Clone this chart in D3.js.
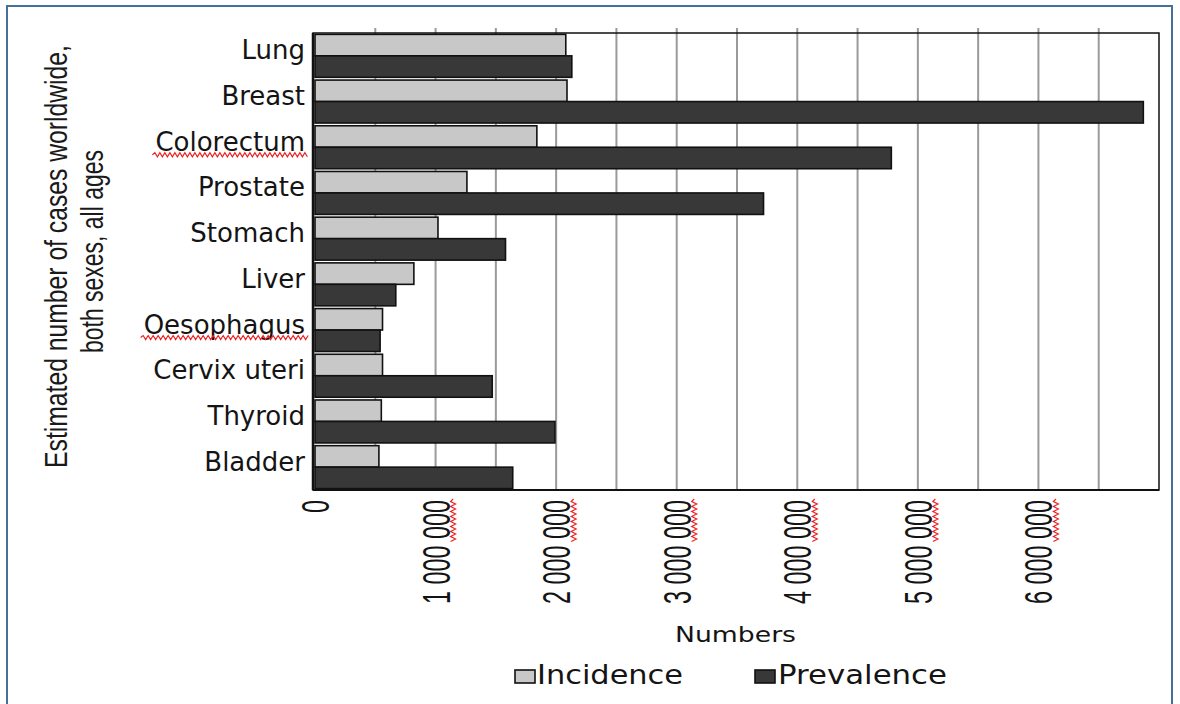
<!DOCTYPE html>
<html><head><meta charset="utf-8">
<script src="https://cdn.jsdelivr.net/npm/d3@7"></script>
<style>body{margin:0;background:#fff} svg{display:block}</style>
</head><body>
<svg id="chart" width="1180" height="704"></svg>
<script>
// ---- data ----
const categories = ["Lung","Breast","Colorectum","Prostate","Stomach","Liver","Oesophagus","Cervix uteri","Thyroid","Bladder"];
const incidence  = [2080000,2090000,1840000,1260000,1020000,820000,560000,560000,550000,530000];
const prevalence = [2130000,6870000,4780000,3720000,1580000,670000,540000,1470000,1990000,1640000];
const seriesNames = ["Incidence","Prevalence"];
const xTickLabels = [0,1000000,2000000,3000000,4000000,5000000,6000000];
const xGridValues = [500000,1000000,1500000,2000000,2500000,3000000,3500000,4000000,4500000,5000000,5500000,6000000,6500000];
const spellFlagged = ["Colorectum","Oesophagus"];
const xTitle = "Numbers";
const yTitle = ["Estimated number of cases worldwide,","both sexes, all ages"];

// ---- setup ----
const svg = d3.select("#chart");
const colors = {Incidence:"#c8c8c8", Prevalence:"#383838"};
const plot = {left:313, right:1159, top:33, bottom:490};
const x = d3.scaleLinear().domain([0,7000000]).range([315,1159]);
const y = d3.scaleBand().domain(categories).range([plot.top,plot.bottom]).paddingInner(0.06).paddingOuter(0.03);
const ySub = d3.scaleBand().domain(seriesNames).range([0,y.bandwidth()]).padding(0);
const fmt = d3.formatLocale({decimal:",",thousands:" ",grouping:[3],currency:["",""]}).format(",");

const rows = categories.map((c,i)=>({cat:c, Incidence:incidence[i], Prevalence:prevalence[i]}));

// outer frame
svg.append("path").attr("d","M7,704V6H1172V704").attr("fill","none").attr("stroke","#44709c").attr("stroke-width",2);

// gridlines
svg.append("g").selectAll("line").data(xGridValues).join("line")
  .attr("x1",d=>x(d)).attr("x2",d=>x(d)).attr("y1",plot.top-5).attr("y2",plot.bottom)
  .attr("stroke","#9a9a9a").attr("stroke-width",2);

// bars
const groups = svg.append("g").selectAll("g").data(rows).join("g")
  .attr("transform",d=>`translate(0,${y(d.cat)})`);
groups.selectAll("rect").data(d=>seriesNames.map(s=>({s, v:d[s]}))).join("rect")
  .attr("x",x(0)).attr("y",d=>ySub(d.s)).attr("width",d=>x(d.v)-x(0)).attr("height",ySub.bandwidth())
  .attr("fill",d=>colors[d.s]).attr("stroke","#111").attr("stroke-width",1.6);

// plot border
svg.append("rect").attr("x",plot.left).attr("y",plot.top).attr("width",plot.right-plot.left).attr("height",plot.bottom-plot.top)
  .attr("fill","none").attr("stroke","#111").attr("stroke-width",1.5);
svg.append("line").attr("x1",plot.left).attr("x2",plot.left).attr("y1",plot.top).attr("y2",plot.bottom)
  .attr("stroke","#111").attr("stroke-width",2.5);
svg.append("line").attr("x1",plot.left).attr("x2",plot.right).attr("y1",plot.bottom).attr("y2",plot.bottom)
  .attr("stroke","#111").attr("stroke-width",2);

function squiggleH(x0,x1,yy){let p=`M${x0},${yy}`,up=true;for(let t=x0+2.5;t<=x1;t+=2.5){p+=`L${t},${yy+(up?-2:2)}`;up=!up;}return p;}
function squiggleV(y0,y1,xx){let p=`M${xx},${y0}`,up=true;for(let t=y0+2.5;t<=y1;t+=2.5){p+=`L${xx+(up?-2.5:2.5)},${t}`;up=!up;}return p;}
const squiggleColor = "#ee2222";

// category labels
const catLabels = svg.append("g").selectAll("text").data(categories).join("text")
  .attr("x",305).attr("y",d=>y(d)+y.bandwidth()/2+3.5)
  .attr("text-anchor","end").attr("font-family","DejaVu Sans").attr("font-size",26).attr("fill","#141414")
  .text(d=>d);
catLabels.filter(d=>spellFlagged.includes(d)).each(function(d){
  const bb=this.getBBox();
  svg.append("path").attr("d",squiggleH(bb.x-3,bb.x+bb.width+4,y(d)+y.bandwidth()/2+7.5))
    .attr("fill","none").attr("stroke",squiggleColor).attr("stroke-width",1.2);
});

// x tick labels (rotated, condensed)
const tl = svg.append("g").selectAll("text").data(xTickLabels).join("text")
  .attr("text-anchor","end").attr("font-family","Liberation Sans").attr("font-size",39).attr("fill","#141414")
  .text(d=>fmt(d));
tl.attr("transform",d=>`translate(${x(d)+14},500) rotate(-90) scale(0.6,1)`);
svg.append("g").selectAll("path").data(xTickLabels.filter(d=>d>0)).join("path")
  .attr("d",d=>squiggleV(499,543,x(d)+17.5)).attr("fill","none").attr("stroke",squiggleColor).attr("stroke-width",1.2);

// x title
svg.append("text").attr("x",735.5).attr("y",641.5).attr("text-anchor","middle")
  .attr("font-family","DejaVu Sans").attr("font-size",21).attr("fill","#141414")
  .attr("textLength",121).attr("lengthAdjust","spacingAndGlyphs").text(xTitle);

// y title (two lines, rotated, condensed to the measured lengths)
const yTitlePos = [{bx:66.7, cy:256.5, len:423},{bx:103, cy:251.5, len:203}];
const yt = svg.append("g").selectAll("text").data(yTitle).join("text")
  .attr("text-anchor","middle").attr("font-family","Liberation Sans").attr("font-size",31).attr("fill","#1a1a1a")
  .text(d=>d);
yt.each(function(d,i){
  const L=this.getComputedTextLength();
  const p=yTitlePos[i];
  d3.select(this).attr("transform",`translate(${p.bx},${p.cy}) rotate(-90) scale(${p.len/L},1)`);
});

// legend
const legPos = [{bx:515, tx:537, len:146},{bx:755, tx:778, len:169}];
const leg = svg.append("g").selectAll("g").data(seriesNames).join("g");
leg.append("rect").attr("x",(d,i)=>legPos[i].bx).attr("y",670).attr("width",20).attr("height",13)
  .attr("fill",d=>colors[d]).attr("stroke","#111").attr("stroke-width",1.6);
leg.append("text").attr("x",(d,i)=>legPos[i].tx).attr("y",684)
  .attr("font-family","DejaVu Sans").attr("font-size",26).attr("fill","#141414")
  .attr("textLength",(d,i)=>legPos[i].len).attr("lengthAdjust","spacingAndGlyphs").text(d=>d);
</script>
</body></html>
